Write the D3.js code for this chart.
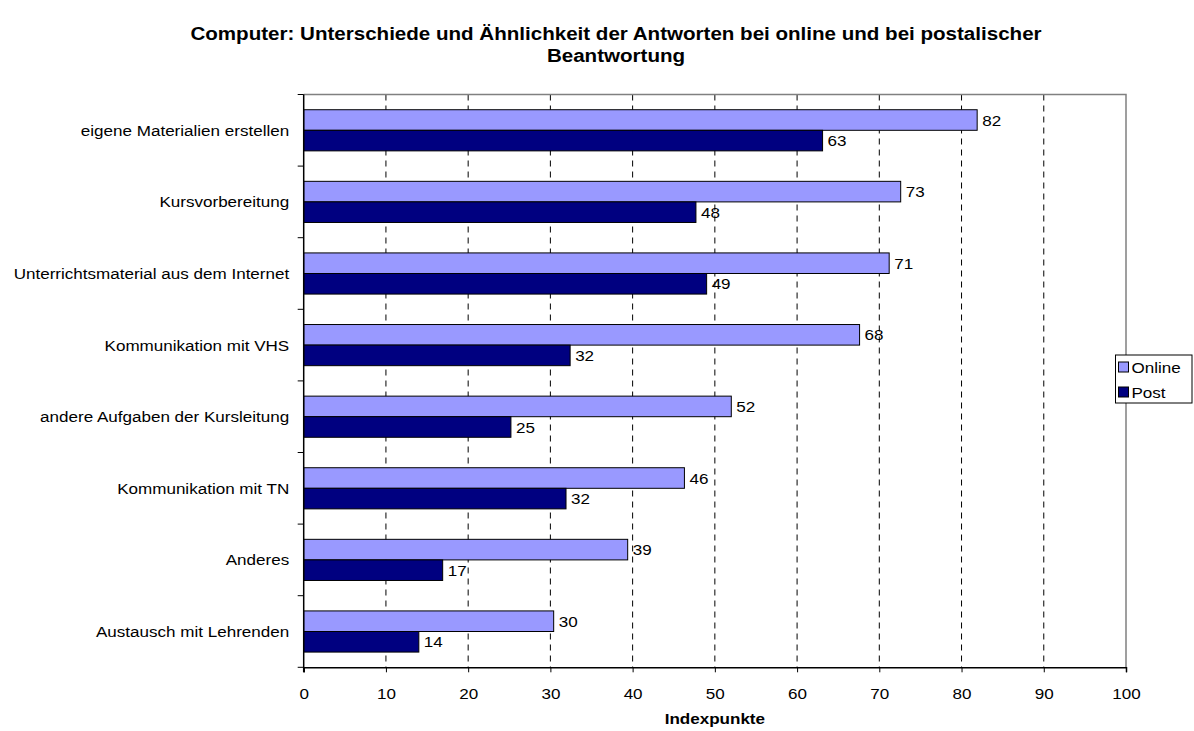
<!DOCTYPE html>
<html>
<head>
<meta charset="utf-8">
<script src="https://cdn.jsdelivr.net/npm/d3@7"></script>
<style>
  html, body { margin: 0; padding: 0; background: #fff; }
  svg { display: block; font-family: "Liberation Sans", Arial, sans-serif; }
</style>
</head>
<body>
<svg id="chart" width="1194" height="731"></svg>
<script>
const categories = [
  "eigene Materialien erstellen",
  "Kursvorbereitung",
  "Unterrichtsmaterial aus dem Internet",
  "Kommunikation mit VHS",
  "andere Aufgaben der Kursleitung",
  "Kommunikation mit TN",
  "Anderes",
  "Austausch mit Lehrenden"
];
const seriesNames = ["Online", "Post"];
const onlineValues = [81.9, 72.6, 71.2, 67.6, 52.0, 46.3, 39.4, 30.4];
const postValues   = [63.1, 47.7, 49.0, 32.4, 25.2, 31.9, 16.9, 14.0];
const xTicks = [0, 10, 20, 30, 40, 50, 60, 70, 80, 90, 100];
const titleLines = [
  "Computer: Unterschiede und Ähnlichkeit der Antworten bei online und bei postalischer",
  "Beantwortung"
];
const xAxisTitle = "Indexpunkte";
const colors = { Online: "#9999FF", Post: "#000080" };

const svg = d3.select("#chart");
const plot = { left: 303.7, right: 1126, top: 94.5, bottom: 667.3 };
const FS = 15.5;     // glyph height
const SX = 1.1;      // horizontal stretch of the original rendering

const x = d3.scaleLinear().domain([0, 100]).range([plot.left, plot.right]);
const y = d3.scaleBand().domain(categories).range([plot.top, plot.bottom]).padding(0);
const ySub = d3.scaleBand().domain(seriesNames).range([0, y.bandwidth()])
  .paddingInner(0).paddingOuter(0.74);

// helper: place stretched text
function place(sel, fx, fy) {
  sel.attr("transform", (d, i) => `translate(${fx(d, i)},${fy(d, i)}) scale(${SX},1)`);
  return sel;
}

// Title
place(svg.append("g").selectAll("text").data(titleLines).join("text"),
      () => 616, (d, i) => 39.5 + i * 22)
  .attr("text-anchor", "middle")
  .attr("font-weight", "bold").attr("font-size", 18.7)
  .text(d => d);

// Gridlines (dashed)
svg.append("g").selectAll("line").data(xTicks.filter(t => t > 0 && t < 100)).join("line")
  .attr("x1", d => x(d)).attr("x2", d => x(d))
  .attr("y1", plot.top).attr("y2", plot.bottom)
  .attr("stroke", "#000").attr("stroke-width", 1)
  .attr("stroke-dasharray", "6,5");

// Plot border top/right (grey)
svg.append("path")
  .attr("d", `M${plot.left},${plot.top}H${plot.right}V${plot.bottom}`)
  .attr("fill", "none").attr("stroke", "#808080").attr("stroke-width", 1.5);

// Bars
const data = [];
categories.forEach((c, i) => {
  data.push({ cat: c, s: "Online", v: onlineValues[i] });
  data.push({ cat: c, s: "Post", v: postValues[i] });
});

svg.append("g").selectAll("rect").data(data).join("rect")
  .attr("x", x(0))
  .attr("y", d => y(d.cat) + ySub(d.s))
  .attr("width", d => x(d.v) - x(0))
  .attr("height", ySub.bandwidth())
  .attr("fill", d => colors[d.s])
  .attr("stroke", "#000").attr("stroke-width", 1);

// Value labels
place(svg.append("g").selectAll("text").data(data).join("text"),
      d => x(d.v) + 5, d => y(d.cat) + ySub(d.s) + ySub.bandwidth() / 2)
  .attr("dy", "0.36em")
  .attr("font-size", FS)
  .text(d => Math.round(d.v));

// X axis
const xAxis = d3.axisBottom(x).tickValues(xTicks).tickSize(5).tickPadding(10).tickFormat(d3.format("d"));
const gx = svg.append("g").attr("transform", `translate(0,${plot.bottom})`).call(xAxis);
gx.select(".domain").attr("stroke", "#000").attr("stroke-width", 1.5);
gx.selectAll(".tick line").attr("stroke", "#000");
gx.selectAll(".tick text")
  .attr("font-size", FS).attr("font-family", "Liberation Sans, Arial, sans-serif").attr("fill", "#000")
  .attr("y", null).attr("dy", null)
  .attr("transform", `translate(0,${31.5 - 0}) scale(${SX},1)`);

// Y axis (category labels, ticks between categories)
const gy = svg.append("g").attr("transform", `translate(${plot.left},0)`);
gy.append("line").attr("x1", 0).attr("x2", 0).attr("y1", plot.top).attr("y2", plot.bottom + 5)
  .attr("stroke", "#000").attr("stroke-width", 1.5);
const boundaries = categories.map(c => y(c)).concat([plot.bottom]);
gy.selectAll("line.tk").data(boundaries).join("line").attr("class", "tk")
  .attr("x1", -6).attr("x2", 0).attr("y1", d => d).attr("y2", d => d)
  .attr("stroke", "#000");
place(gy.selectAll("text").data(categories).join("text"),
      () => -14.5, d => y(d) + y.bandwidth() / 2)
  .attr("dy", "0.36em")
  .attr("text-anchor", "end")
  .attr("font-size", FS)
  .text(d => d);

// X axis title
place(svg.append("text").datum(xAxisTitle),
      () => (plot.left + plot.right) / 2, () => 723.5)
  .attr("text-anchor", "middle").attr("font-weight", "bold").attr("font-size", FS)
  .text(d => d);

// Legend
const lg = svg.append("g").attr("transform", "translate(1115.5,355)");
lg.append("rect").attr("x", 0).attr("y", 0).attr("width", 76.5).attr("height", 48)
  .attr("fill", "#fff").attr("stroke", "#000").attr("stroke-width", 1);
const li = lg.selectAll("g.item").data(seriesNames).join("g").attr("class", "item")
  .attr("transform", (d, i) => `translate(3,${12 + i * 25})`);
li.append("rect").attr("x", 0).attr("y", -5).attr("width", 10).attr("height", 10)
  .attr("fill", d => colors[d]).attr("stroke", "#000").attr("stroke-width", 1);
place(li.append("text"), () => 13, () => 0)
  .attr("dy", "0.36em")
  .attr("font-size", FS).text(d => d);
</script>
</body>
</html>
